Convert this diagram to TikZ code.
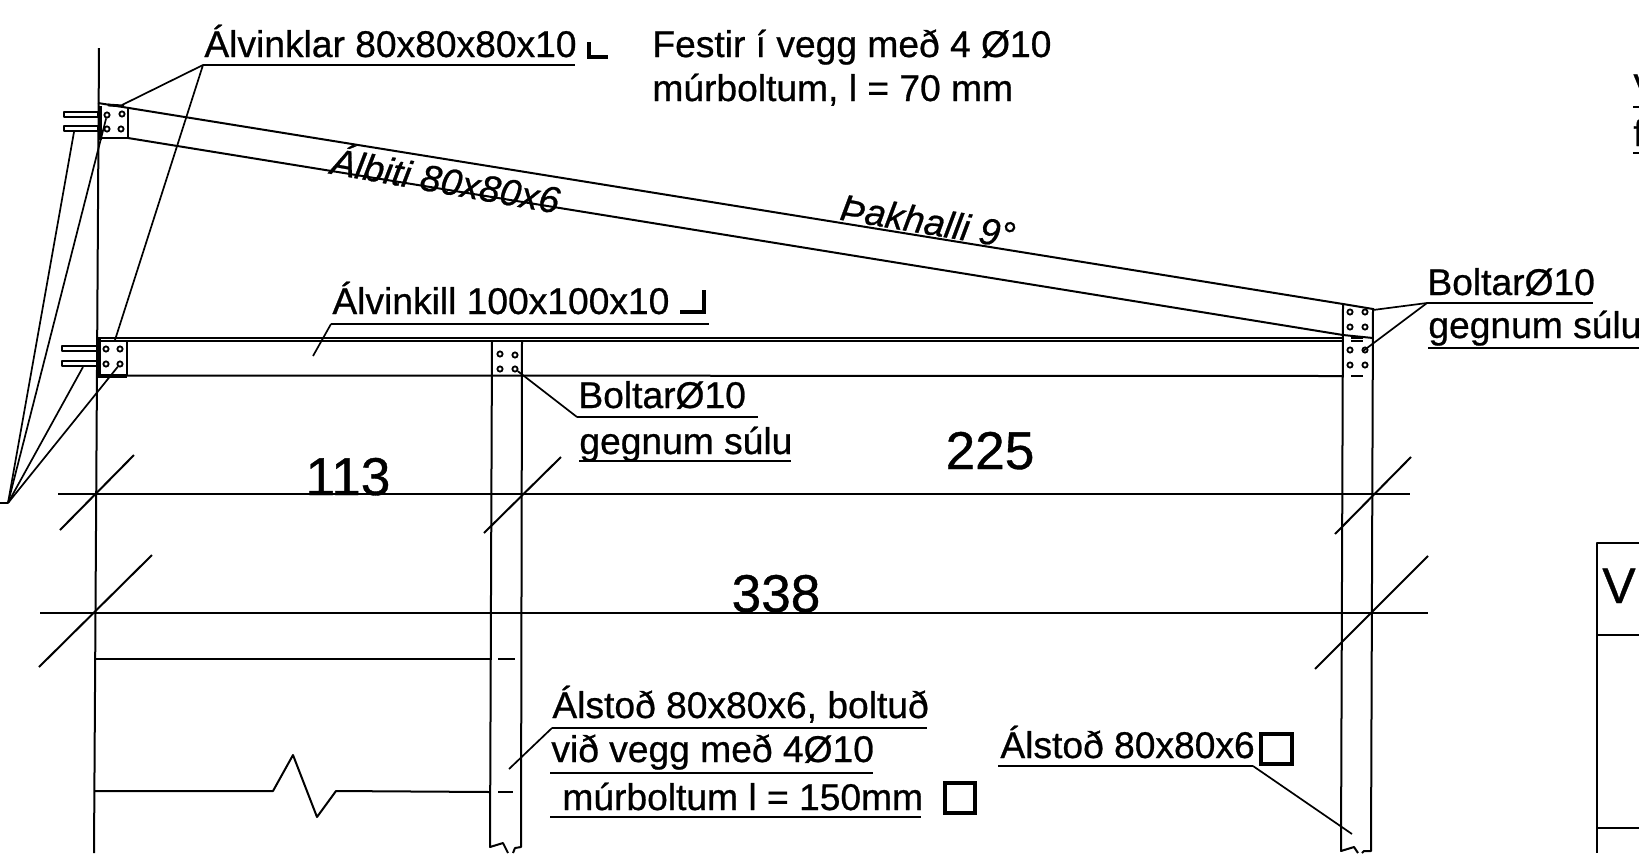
\documentclass[tikz,border=0pt]{standalone}
\usepackage{fontspec}
\setmainfont{Liberation Sans}[RawFeature={embolden=0.7}]
\begin{document}
\begin{tikzpicture}[x=0.5pt,y=-0.5pt,
  ln/.style={line width=1pt,black,line join=round},
  lead/.style={line width=0.85pt,black,line join=round},
  thk/.style={line width=1.7pt,black,line join=miter},
  lbl/.style={inner sep=0pt,anchor=base west,font=\fontsize{18.6pt}{20pt}\selectfont},
  big/.style={inner sep=0pt,anchor=base,font=\fontsize{26.6pt}{28pt}\selectfont},
  bolt/.style={circle,draw=black,line width=0.9pt,inner sep=0pt,minimum size=2.6pt}]
\clip (0,0) rectangle (1639,853);
\fill[white] (0,0) rectangle (1639,853);
% wall
\coordinate (wt) at (99,48); \coordinate (wb) at (94,853);
\draw[ln] (wt) -- (wb);
% upper beam
\draw[ln] (98,103) -- (1343,304) -- (1373,309);
\draw[ln] (128,138) -- (1343,335) -- (1373,338);
% upper plate
\draw[ln] (128,107) -- (128,138) -- (100,138);
\draw[line width=1.8pt] (100,106) -- (100,140);
\draw[line width=1.4pt] (108,105) -- (124,106);
\draw[ln] (64,112) rectangle (98,117);
\draw[ln] (64,126) rectangle (98,131);
\node[bolt] (ub1) at (122,114) {}; \node[bolt] (ub2) at (121,129) {};
\node[bolt] (ub3) at (107,115) {}; \node[bolt] (ub4) at (107,129) {};
% lower beam
\draw[ln] (97,337.5) -- (1343,337.5);
\draw[ln] (97,340.8) -- (1343,340.8);
\draw[ln] (1351,338) -- (1363,338);
\draw[ln] (1351,341) -- (1363,341);
\draw[ln] (127,375.5) -- (1343,376);
\draw[ln] (1351,376) -- (1363,376);
% lower plate
\draw[ln] (99,341) rectangle (127,375);
\draw[line width=1.8pt] (99,338) -- (99,376) -- (127,376);
\draw[ln] (62,346) rectangle (98,351);
\draw[ln] (62,361) rectangle (98,366);
\node[bolt] (lb1) at (106,349) {}; \node[bolt] (lb2) at (120,349) {};
\node[bolt] (lb3) at (106,364) {}; \node[bolt] (lb4) at (120,364) {};
% middle column
\draw[ln] (492,341) -- (490,847) -- (503,843) -- (508,853);
\draw[ln] (522,341) -- (521,847) -- (515,848) -- (513,853);
\node[bolt] (mb1) at (500,354) {}; \node[bolt] (mb2) at (515,355) {};
\node[bolt] (mb3) at (500,369) {}; \node[bolt] (mb4) at (515,369) {};
\draw[ln] (498,659) -- (515,659);
\draw[ln] (498,792) -- (513,792);
% right column
\draw[ln] (1343,305) -- (1341,851) -- (1354,847) -- (1358,853);
\draw[ln] (1373,308) -- (1371,851) -- (1364,851) -- (1362,853);
\foreach \px/\py in {1350/312,1365/312,1350/327,1365/327,1350/350,1365/350,1350/365,1365/365}
  \node[bolt] at (\px,\py) {};
% horizontal lines
\draw[ln] (95,659) -- (492,659);
\draw[ln] (95,791) -- (273,791) -- (293,755) -- (317,817) -- (336,791) -- (490,792);
% dimension lines
\draw[ln] (58,494) -- (1410,494);
\draw[ln] (60,530) -- (134,455);
\draw[ln] (484,533) -- (561,457);
\draw[ln] (1335,534) -- (1411,457);
\draw[ln] (40,612.5) -- (1428,612.5);
\draw[ln] (39,667) -- (152,555);
\draw[ln] (1315,669) -- (1428,556);
\node[big] (d113) at (348,495) {113};
\node[big] (d225) at (990,469) {225};
\node[big] (d338) at (776,612) {338};
% top left labels
\node[lbl] (alv) at (204,57) {Álvinklar 80x80x80x10};
\coordinate (alvL) at (203,65); \coordinate (alvR) at (575,65);
\draw[lead] (alvL) -- (alvR);
\draw[lead] (alvL) -- (122,105);
\draw[lead] (alvL) -- (115,340);
\draw[thk] (589,42) -- (589,57) -- (608,57);
\node[lbl] (fest1) at (652,57) {Festir í vegg með 4 Ø10};
\node[lbl] (fest2) at (652,101) {múrboltum, l = 70 mm};
% wall bolts leaders
\coordinate (fan) at (8,503);
\draw[lead] (0,503) -- (fan);
\draw[lead] (fan) -- (74,132);
\draw[lead] (fan) -- (ub3);
\draw[lead] (fan) -- (83,367);
\draw[lead] (fan) -- (lb4);
% beam labels
\node[lbl,anchor=center,rotate=-10,font=\fontsize{18.6pt}{20pt}\selectfont\itshape] (bita) at (446,178) {Álbiti 80x80x6};
\node[lbl,anchor=center,rotate=-9.5,font=\fontsize{18.6pt}{20pt}\selectfont\itshape] (thak) at (928,221) {Þakhalli 9°};
\node[lbl] (alk) at (332,314) {Álvinkill 100x100x10};
\coordinate (alkL) at (331,324); \coordinate (alkR) at (709,324);
\draw[lead] (alkL) -- (alkR);
\draw[lead] (alkL) -- (313,356);
\draw[thk] (680,312) -- (704,312) -- (704,290);
% middle bolts label
\node[lbl] (b1) at (578,408) {BoltarØ10};
\node[lbl] (b2) at (579,454) {gegnum súlu};
\coordinate (b1L) at (577,417); \coordinate (b1R) at (758,417);
\draw[lead] (b1L) -- (b1R);
\draw[lead] (579,461) -- (791,461);
\draw[lead] (b1L) -- (mb4);
% right bolts label
\node[lbl] (b3) at (1427,295) {BoltarØ10};
\node[lbl] (b4) at (1428,338) {gegnum súlu};
\coordinate (b3L) at (1427,303);
\draw[lead] (b3L) -- (1593,303);
\draw[lead] (1428,348) -- (1639,348);
\draw[lead] (b3L) -- (1373,310);
\draw[lead] (b3L) -- (1363,351);
% lower middle label
\node[lbl] (s1) at (552,718) {Álstoð 80x80x6, boltuð};
\node[lbl] (s2) at (551,762) {við vegg með 4Ø10};
\node[lbl] (s3) at (562,810) {múrboltum l = 150mm};
\coordinate (s1L) at (552,728);
\draw[lead] (s1L) -- (927,728);
\draw[lead] (550,773) -- (873,773);
\draw[lead] (550,817) -- (921,817);
\draw[lead] (s1L) -- (509,769);
\draw[thk] (945,783) rectangle (975,813);
% lower right label
\node[lbl] (s4) at (1000,758) {Álstoð 80x80x6};
\coordinate (s4R) at (1253,766);
\draw[lead] (998,766) -- (s4R);
\draw[lead] (s4R) -- (1352,834);
\draw[thk] (1261,734) rectangle (1292,764);
% far right fragments
\node[lbl] (fv) at (1633,100) {V};
\draw[lead] (1633,107) -- (1639,107);
\node[lbl] (ff) at (1633,146) {f};
\draw[lead] (1633,153) -- (1639,153);
\draw[ln] (1639,543) -- (1597,543) -- (1597,853);
\draw[ln] (1597,635) -- (1639,635);
\draw[ln] (1597,828) -- (1639,828);
\node[inner sep=0pt,anchor=base,font=\fontsize{25pt}{27pt}\selectfont] (tv) at (1619,603) {V};
\end{tikzpicture}
\end{document}
